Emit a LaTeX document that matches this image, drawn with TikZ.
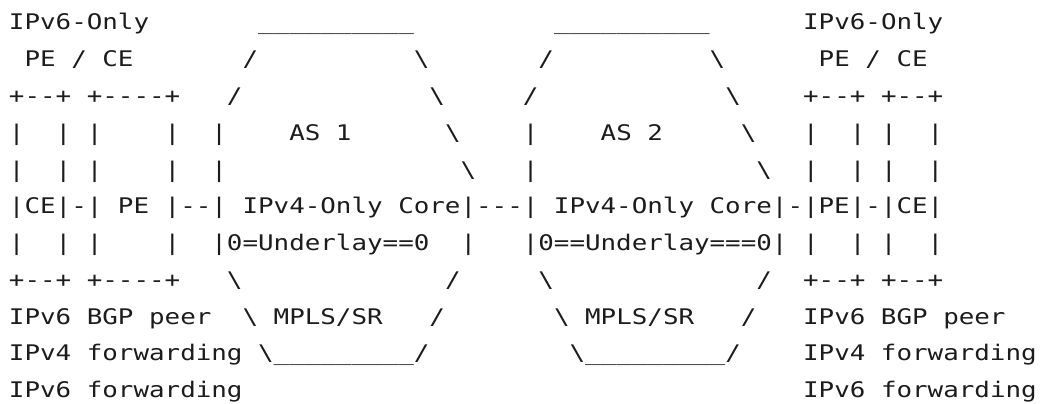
\documentclass[tikz,border=0pt]{standalone}
\usepackage{fontspec}
\setmonofont[FakeStretch=1.203]{DejaVu Sans Mono}
\usepackage{tikz}

\definecolor{asciiink}{HTML}{1C1C1C}
\newcommand\gap[1]{\foreach\cnt in {1,...,#1}{\ }}
\newcommand\unders[1]{\foreach\cnt in {1,...,#1}{\_}}
\newcommand\bsl{\textbackslash}
\newcommand\rowpitch{36.77pt}

\begin{document}
\begin{tikzpicture}[x=1pt, y=1pt]
  \tikzset{RowStyle/.style = {anchor     = base west,
                              inner sep  = 0pt,
                              outer sep  = 0pt,
                              text       = asciiink,
                              font       = \ttfamily\fontsize{21.5}{36.77}\selectfont}}
  \useasboundingbox (0,0) rectangle (1041,-404);
  %%% TOP OF THE TWO AS %%%
  \node[RowStyle] (row1) at (9,-30) {IPv6-Only\gap{7}\unders{10}\gap{9}\unders{10}\gap{6}IPv6-Only};
  \node[RowStyle] (row2) at ([yshift=-\rowpitch]row1.base west) {\gap{1}PE / CE\gap{7}/\gap{10}\bsl\gap{7}/\gap{10}\bsl\gap{6}PE / CE};
  \node[RowStyle] (row3) at ([yshift=-\rowpitch]row2.base west) {+--+ +----+\gap{3}/\gap{12}\bsl\gap{5}/\gap{12}\bsl\gap{4}+--+ +--+};
  %%% CE - PE - CORE - CORE - PE - CE %%%
  \node[RowStyle] (row4) at ([yshift=-\rowpitch]row3.base west) {|\gap{2}|\gap{1}|\gap{4}|\gap{2}|\gap{4}AS 1\gap{6}\bsl\gap{4}|\gap{4}AS 2\gap{5}\bsl\gap{3}|\gap{2}|\gap{1}|\gap{2}|};
  \node[RowStyle] (row5) at ([yshift=-\rowpitch]row4.base west) {|\gap{2}|\gap{1}|\gap{4}|\gap{2}|\gap{15}\bsl\gap{3}|\gap{14}\bsl\gap{2}|\gap{2}|\gap{1}|\gap{2}|};
  \node[RowStyle] (row6) at ([yshift=-\rowpitch]row5.base west) {|CE|-| PE |--| IPv4-Only Core|---| IPv4-Only Core|-|PE|-|CE|};
  \node[RowStyle] (row7) at ([yshift=-\rowpitch]row6.base west) {|\gap{2}|\gap{1}|\gap{4}|\gap{2}|0=Underlay==0\gap{2}|\gap{3}|0==Underlay===0|\gap{1}|\gap{2}|\gap{1}|\gap{2}|};
  \node[RowStyle] (row8) at ([yshift=-\rowpitch]row7.base west) {+--+ +----+\gap{3}\bsl\gap{13}/\gap{5}\bsl\gap{13}/\gap{2}+--+ +--+};
  %%% BOTTOM OF THE TWO AS %%%
  \node[RowStyle] (row9) at ([yshift=-\rowpitch]row8.base west) {IPv6 BGP peer\gap{2}\bsl\gap{1}MPLS/SR\gap{3}/\gap{7}\bsl\gap{1}MPLS/SR\gap{3}/\gap{3}IPv6 BGP peer};
  \node[RowStyle] (row10) at ([yshift=-\rowpitch]row9.base west) {IPv4 forwarding\gap{1}\bsl\unders{9}/\gap{9}\bsl\unders{9}/\gap{4}IPv4 forwarding};
  \node[RowStyle] (row11) at ([yshift=-\rowpitch]row10.base west) {IPv6 forwarding\gap{36}IPv6 forwarding};
\end{tikzpicture}
\end{document}
